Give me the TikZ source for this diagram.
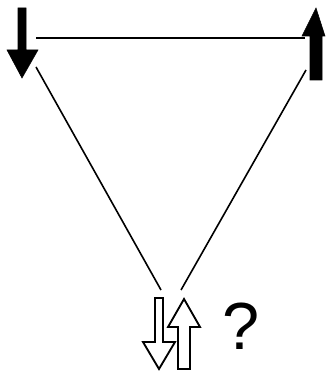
\documentclass[tikz,border=0pt]{standalone}
\usepackage{fontspec}
\setmainfont{Liberation Sans}
\begin{document}
\begin{tikzpicture}[x=0.75pt,y=-0.75pt,
  solidarrow/.style={fill=black,draw=black,line width=0.4pt},
  hollowarrow/.style={fill=white,draw=black,line width=1.4pt,line join=miter},
  link/.style={draw=black,line width=1.2pt}]
\useasboundingbox (0,0) rectangle (325,373);
% left solid down arrow
\path[solidarrow] (18,8) -- (26,8) -- (26,50) -- (38,50) -- (22,78) -- (7,50) -- (18,50) -- cycle;
% right solid up arrow
\path[solidarrow] (310,80) -- (322,80) -- (322,36) -- (325,36) -- (316,8) -- (302,36) -- (310,36) -- cycle;
% connectors
\coordinate (hl) at (36,38);
\coordinate (hr) at (305,38);
\coordinate (la) at (36,67);
\coordinate (lb) at (161,290);
\coordinate (ra) at (306,70);
\coordinate (rb) at (181,290);
\draw[link] (hl) -- (hr);
\draw[link] (la) -- (lb);
\draw[link] (ra) -- (rb);
% hollow down arrow
\path[hollowarrow] (155,298) -- (163,298) -- (163,342) -- (175,342) -- (159,369) -- (143,342) -- (155,342) -- cycle;
% hollow up arrow
\path[hollowarrow] (178,369) -- (190,369) -- (190,327) -- (200,327) -- (184,299) -- (168,327) -- (178,327) -- cycle;
\node[font=\fontsize{50}{54}\selectfont,inner sep=0pt] (q) at (241,326) {?};
\end{tikzpicture}
\end{document}
